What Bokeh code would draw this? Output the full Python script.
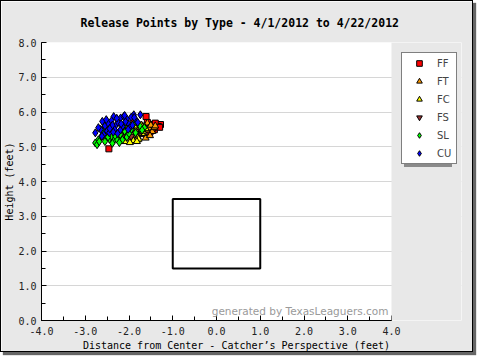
from bokeh.plotting import figure
from bokeh.models import Legend, LegendItem, Label, PrintfTickFormatter, SingleIntervalTicker, BoxAnnotation
from bokeh.embed import file_html
from bokeh.resources import INLINE

# ---- data (feet) ----
FF_x = [-2.46, -1.61, -1.49, -1.37, -1.28, -1.42, -1.89, -1.55, -1.45, -1.33, -1.65, -1.52, -1.40, -1.75, -2.05, -1.30, -1.58, -1.47]
FF_y = [4.94, 5.87, 5.64, 5.62, 5.64, 5.49, 5.73, 5.60, 5.55, 5.58, 5.50, 5.42, 5.68, 5.62, 5.45, 5.56, 5.70, 5.52]

FT_x = [-1.58, -1.55, -1.70, -1.85, -2.00, -1.47, -1.62, -1.75, -1.90, -1.52, -1.65, -1.80, -1.42, -1.68, -1.95, -1.60, -1.50, -1.78, -1.88, -1.40]
FT_y = [5.68, 5.54, 5.35, 5.16, 5.36, 5.44, 5.25, 5.45, 5.28, 5.32, 5.58, 5.20, 5.55, 5.40, 5.18, 5.48, 5.62, 5.55, 5.42, 5.60]

FC_x = [-2.25, -2.15, -2.10, -2.05, -2.00, -1.95, -1.90, -1.85, -1.80, -1.75, -1.70, -2.20, -2.08, -1.98, -1.88, -1.78, -1.68, -2.30, -2.12, -1.92, -1.82, -1.72, -2.02, -1.62]
FC_y = [5.20, 5.30, 5.15, 5.40, 5.25, 5.35, 5.18, 5.45, 5.28, 5.50, 5.38, 5.42, 5.55, 5.12, 5.60, 5.22, 5.45, 5.30, 5.48, 5.32, 5.15, 5.62, 5.58, 5.52]

FS_x = [-2.05, -1.95, -1.72, -2.15, -1.85]
FS_y = [5.40, 5.30, 5.45, 5.28, 5.38]

SL_x = [-2.77, -2.73, -2.65, -2.58, -2.70, -2.62, -2.55, -2.50, -2.45, -2.40, -2.35, -2.30, -2.25, -2.20, -2.15, -2.10, -2.05, -1.95, -1.85, -1.75, -1.65, -2.68, -2.60, -2.48, -2.38, -2.28, -2.18, -2.00, -1.90, -1.70, -2.52, -2.42, -2.32, -2.22, -2.12]
SL_y = [5.11, 5.06, 5.25, 5.54, 5.20, 5.32, 5.15, 5.38, 5.22, 5.30, 5.18, 5.42, 5.25, 5.35, 5.20, 5.45, 5.28, 5.50, 5.40, 5.60, 5.55, 5.15, 5.45, 5.28, 5.10, 5.22, 5.50, 5.38, 5.65, 5.48, 5.48, 5.58, 5.32, 5.12, 5.60]

CU_x = [-2.77, -2.61, -2.35, -2.19, -1.89, -1.74, -2.12, -2.55, -2.48, -2.40, -2.30, -2.25, -2.05, -2.00, -1.95, -1.85, -2.65, -2.50, -2.42, -2.33, -2.28, -2.15, -2.08, -1.98, -1.80, -2.58, -2.45, -2.38, -2.20, -2.10, -1.92, -2.70, -2.52, -2.36, -2.18, -2.02, -1.88, -2.62, -2.44, -2.26]
CU_y = [5.40, 5.73, 5.87, 5.83, 5.92, 5.92, 5.87, 5.60, 5.68, 5.75, 5.62, 5.70, 5.80, 5.65, 5.85, 5.78, 5.50, 5.45, 5.55, 5.50, 5.82, 5.58, 5.72, 5.55, 5.70, 5.35, 5.40, 5.62, 5.48, 5.90, 5.62, 5.55, 5.78, 5.42, 5.66, 5.50, 5.84, 5.30, 5.52, 5.38]

zone_x = [-1.0, 1.0]
zone_y = [1.5, 3.5]

x_axis_bounds = (-4.0, 4.0)
pitch_types = ["FF", "FT", "FC", "FS", "SL", "CU"]

title = "Release Points by Type - 4/1/2012 to 4/22/2012"
x_label = "Distance from Center - Catcher\u2019s Perspective (feet)"
y_label = "Height (feet)"
watermark = "generated by TexasLeaguers.com"

MONO = "DejaVu Sans Mono"
BG = "#e8e8e8"

# the frame is widened past x=4 so the legend (which sits in the frame) is not clipped;
# the part right of x=4 is painted with the border colour.
p = figure(width=473, height=352, x_range=(-4, 5.6), y_range=(0, 8),
           output_backend="svg", toolbar_location=None,
           min_border_left=40, min_border_right=13, min_border_top=40, min_border_bottom=33)
p.styles = {"border": "1px solid black", "box-shadow": "3px 3px 1px #666"}
p.border_fill_color = BG
p.background_fill_color = "white"
p.outline_line_color = None

p.title.text = title
p.title.text_font = MONO
p.title.text_font_size = "11.5px"
p.title.text_font_style = "bold"
p.title.align = "left"
p.title.offset = 39
p.title.standoff = 25
p.title.text_color = "black"

for ax in (p.xaxis[0], p.yaxis[0]):
    ax.ticker = SingleIntervalTicker(interval=1, num_minor_ticks=2)
    ax.formatter = PrintfTickFormatter(format="%.1f")
    ax.major_tick_in = 5
    ax.major_tick_out = 0
    ax.minor_tick_in = 4
    ax.minor_tick_out = 0
    ax.axis_line_color = "black"
    ax.major_tick_line_color = "black"
    ax.minor_tick_line_color = "black"
    ax.major_label_text_font = MONO
    ax.major_label_text_font_size = "10px"
    ax.major_label_text_color = "#222222"
    ax.axis_label_text_font = MONO
    ax.axis_label_text_font_size = "10px"
    ax.axis_label_text_font_style = "normal"
    ax.axis_label_text_color = "black"

p.xaxis.bounds = x_axis_bounds
p.xaxis.axis_label = x_label + "\u00a0" * 5
p.yaxis.axis_label = y_label
p.xaxis.major_label_standoff = 6
p.yaxis.major_label_standoff = 5
p.xaxis.axis_label_standoff = 2
p.yaxis.axis_label_standoff = 0

p.xgrid.grid_line_color = None
p.ygrid.ticker = SingleIntervalTicker(interval=1)
p.ygrid.grid_line_color = "#d6d6d6"

# strike zone
p.quad(left=[zone_x[0]], right=[zone_x[1]], bottom=[zone_y[0]], top=[zone_y[1]],
       fill_color=None, line_color="black", line_width=2)

r_ff = p.scatter(FF_x, FF_y, marker="square", size=6, fill_color="#ff0000", line_color="black", line_width=1)
r_ft = p.scatter(FT_x, FT_y, marker="triangle", size=7, fill_color="#ff9900", line_color="black", line_width=1)
r_fc = p.scatter(FC_x, FC_y, marker="triangle", size=7, fill_color="#ffff00", line_color="black", line_width=1)
r_fs = p.scatter(FS_x, FS_y, marker="inverted_triangle", size=7, fill_color="#993333", line_color="black", line_width=1)
r_sl = p.scatter(SL_x, SL_y, marker="diamond", size=8, fill_color="#00ff00", line_color="black", line_width=1)
r_cu = p.scatter(CU_x, CU_y, marker="diamond", size=8, fill_color="#0000ff", line_color="black", line_width=1)
renderers = [r_ff, r_ft, r_fc, r_fs, r_sl, r_cu]

p.add_layout(Label(x=3.93, y=0.26, text=watermark, text_align="right", text_baseline="alphabetic",
                   text_font="DejaVu Sans", text_font_size="10.5px", text_color="#9a9a9a"))

# paint the region right of the plotting area like the surrounding border
p.add_layout(BoxAnnotation(left=x_axis_bounds[1], fill_color=BG, fill_alpha=1, line_color=None))

# invisible renderer used only to size a shadow box behind the legend
dummy = p.scatter([], [], marker="square", size=0, fill_alpha=0, line_alpha=0)


def style_legend(lg):
    lg.padding = 3
    lg.spacing = 4
    lg.glyph_width = 28
    lg.glyph_height = 14
    lg.label_standoff = 4
    lg.label_width = 16
    lg.label_height = 14
    lg.label_text_font = "DejaVu Sans"
    lg.label_text_font_size = "10px"
    lg.margin = 0


shadow = Legend(items=[LegendItem(label="\u00a0", renderers=[dummy]) for _ in pitch_types],
                location=(363, 153))
style_legend(shadow)
shadow.border_line_color = None
shadow.background_fill_color = "#8a8a8a"
shadow.background_fill_alpha = 1
shadow.label_text_alpha = 0
p.add_layout(shadow)

legend = Legend(items=[LegendItem(label=t, renderers=[r]) for t, r in zip(pitch_types, renderers)],
                location=(360, 156))
style_legend(legend)
legend.border_line_color = "black"
legend.border_line_width = 1
legend.background_fill_color = "white"
legend.background_fill_alpha = 1
p.add_layout(legend)

open("out.html", "w").write(file_html(p, INLINE))
